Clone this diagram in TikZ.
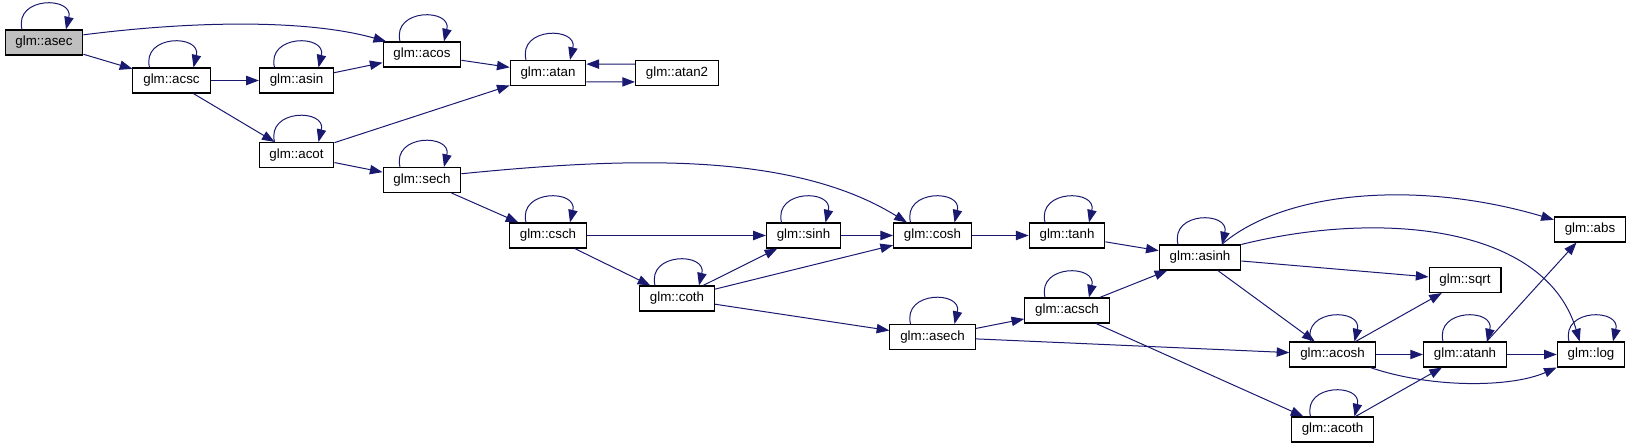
\documentclass[tikz,border=0pt]{standalone}
\usepackage{fontspec}
\setmainfont{Liberation Sans}
\usetikzlibrary{arrows.meta}
\definecolor{callblue}{RGB}{25,25,112}

\begin{document}
\begin{tikzpicture}[x=0.75pt,y=-0.75pt,
  fn/.style={draw=black,line width=0.8pt,fill=white,minimum height=18.75pt,inner xsep=7.8pt,inner ysep=0pt,font=\fontsize{10}{12}\selectfont},
  rootfn/.style={fn,fill=black!25},
  call/.style={draw=callblue,line width=0.75pt,-{Triangle[length=9.5pt,width=7pt]}}]
\useasboundingbox (0,0) rectangle (1632,448);
\node[rootfn] (asec) at (44,42.5) {glm::asec};
\foreach \n/\x/\y in {acsc/171.5/80.5, asin/296.5/80.5, acos/422/54.5, atan/548/73, atan2/677/73, acot/296.5/155, sech/422/180, csch/548/235.5, coth/677/298.5, sinh/803.5/235.5, cosh/932.5/235.5, tanh/1067/235.5, asech/932.5/337, acsch/1067/310.5, asinh/1200/257.5, sqrt/1465/280, abs/1590/229.5, acosh/1332.5/354.5, atanh/1465/354.5, log/1591/354.5, acoth/1332.5/429.5} { \node[fn] (\n) at (\x,\y) {glm::\n}; }
\foreach \n in {asec,acsc,asin,acos,atan,acot,sech,csch,coth,sinh,cosh,tanh,asech,acsch,asinh,acosh,atanh,log,acoth} { \draw[call] ([xshift=-16.5pt]\n.north) .. controls +(-6pt,25pt) and +(6pt,25pt) .. ([xshift=16.5pt]\n.north); }
\foreach \a/\b in {asec/acsc, acsc/asin, acsc/acot, asin/acos, acos/atan, acot/atan, acot/sech, sech/csch, csch/sinh, csch/coth, coth/sinh, coth/cosh, coth/asech, sinh/cosh, cosh/tanh, tanh/asinh, asech/acsch, asech/acosh, acsch/asinh, acsch/acoth, asinh/sqrt, asinh/acosh, acosh/sqrt, acosh/atanh, atanh/log, acoth/atanh} { \draw[call] (\a) -- (\b); }
\draw[call] (atan2.168) -- (atan.13);
\draw[call] (atan.347) -- (atan2.192);
\draw[call] (atanh.31) -- (abs.224);
\draw[call] (asec.11) .. controls (200,20) and (310,20) .. (acos.160);
\draw[call] (sech.9) .. controls (620,158) and (790,150) .. (cosh.153);
\draw[call] (asinh.31) .. controls (1285,190) and (1420,180) .. (abs.165);
\draw[call] (asinh.north east) .. controls (1380,210) and (1545,225) .. (log.131);
\draw[call] (acosh.-19) .. controls (1430,388) and (1510,388) .. (log.south west);
\end{tikzpicture}
\end{document}
